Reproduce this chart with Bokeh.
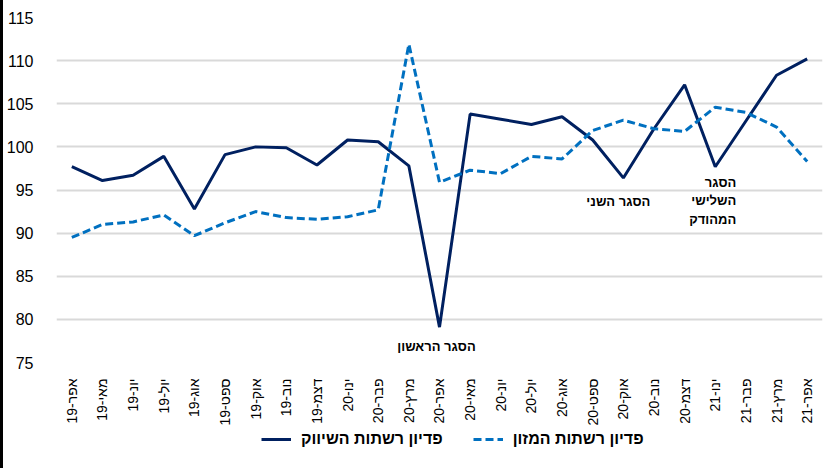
from bokeh.plotting import figure
from bokeh.layouts import column
from bokeh.models import ColumnDataSource, FactorRange, Range1d, Legend, LegendItem, FixedTicker
from bokeh.core.properties import value
from bokeh.embed import file_html
from bokeh.resources import INLINE

months = ["אפר-19", "מאי-19", "יונ-19", "יול-19", "אוג-19", "ספט-19", "אוק-19", "נוב-19",
          "דצמ-19", "ינו-20", "פבר-20", "מרץ-20", "אפר-20", "מאי-20", "יונ-20", "יול-20",
          "אוג-20", "ספט-20", "אוק-20", "נוב-20", "דצמ-20", "ינו-21", "פבר-21", "מרץ-21", "אפר-21"]

marketing = [97.7, 96.1, 96.7, 98.9, 92.8, 99.1, 100.0, 99.9, 97.9, 100.8, 100.6, 97.8, 79.1,
             103.8, 103.2, 102.6, 103.5, 100.8, 96.4, 102.1, 107.2, 97.7, 103.0, 108.3, 110.2]
food = [89.5, 91.0, 91.3, 92.1, 89.7, 91.2, 92.5, 91.8, 91.6, 91.9, 92.7, 111.9, 95.9,
        97.3, 96.9, 98.9, 98.6, 101.9, 103.1, 102.1, 101.8, 104.6, 104.0, 102.3, 98.3]

series_names = ["פדיון רשתות השיווק", "פדיון רשתות המזון"]
y_ticks = [75, 80, 85, 90, 95, 100, 105, 110, 115]

ann_text = ["הסגר הראשון", "הסגר השני", "הסגר", "השלישי", "המהודק"]
ann_x = ["אפר-20", "אוק-20", "ינו-21", "ינו-21", "ינו-21"]
ann_y = [76.9, 93.7, 95.9, 93.8, 91.6]

FONT = "Liberation Sans"
NAVY = "#002060"
BLUE = "#0070C0"

p = figure(x_range=FactorRange(*months), y_range=Range1d(75, 115),
           frame_width=766, frame_height=345,
           min_border_left=53, min_border_top=17, min_border_right=5, min_border_bottom=62,
           output_backend="svg", toolbar_location=None)
p.outline_line_color = None
p.background_fill_color = "white"
p.border_fill_color = "white"

src = ColumnDataSource(dict(x=months, m=marketing, f=food))
p.line("x", "m", source=src, line_color=NAVY, line_width=3)
p.line("x", "f", source=src, line_color=BLUE, line_width=3, line_dash="8 4")

asrc = ColumnDataSource(dict(x=ann_x, y=ann_y, t=ann_text,
                             align=["center", "center", "right", "right", "right"],
                             xo=[-3, -5, 21, 21, 21]))
p.text("x", "y", text="t", source=asrc, text_align="align", x_offset="xo",
       text_baseline="middle", text_font=value(FONT), text_font_style="bold",
       text_font_size="13px", text_color="#000000")

p.xgrid.grid_line_color = None
p.ygrid.grid_line_color = "#d9d9d9"
p.ygrid.grid_line_width = 2

p.yaxis.ticker = FixedTicker(ticks=y_ticks)
for ax in (p.xaxis, p.yaxis):
    ax.axis_line_color = None
    ax.major_tick_line_color = None
    ax.minor_tick_line_color = None
    ax.major_label_text_font = FONT
    ax.major_label_text_color = "#000000"
p.yaxis.major_label_text_font_size = "16px"
p.yaxis.major_label_standoff = 17
p.xaxis.major_label_text_font_size = "14px"
p.xaxis.major_label_orientation = 1.5707963
p.xaxis.major_label_standoff = 10
p.xaxis.group_text_font_size = "0px"

# legend strip below the chart (legend-only renderers sit outside the visible range)
p2 = figure(width=824, height=40, x_range=Range1d(0, 1), y_range=Range1d(0, 1),
            x_axis_type=None, y_axis_type=None, min_border=0,
            output_backend="svg", toolbar_location=None)
p2.outline_line_color = None
p2.grid.grid_line_color = None
p2.background_fill_color = "white"
p2.border_fill_color = "white"
l1 = p2.line(x=[-5, -4], y=[-5, -5], line_color=NAVY, line_width=3)
l2 = p2.line(x=[-5, -4], y=[-5, -5], line_color=BLUE, line_width=3, line_dash="8 4")
legend = Legend(items=[LegendItem(label=series_names[0], renderers=[l1]),
                       LegendItem(label=series_names[1], renderers=[l2])],
                orientation="horizontal", location=(205, 19),
                label_text_font=FONT, label_text_font_size="16px", label_text_font_style="bold",
                label_text_color="#000000", glyph_width=30, glyph_height=20,
                label_standoff=10, spacing=30,
                border_line_color=None, background_fill_alpha=0, margin=0, padding=0)
p2.add_layout(legend, "center")

layout = column(p, p2, spacing=0)
layout.styles = {"border-left": "3px solid black"}

open("out.html", "w").write(file_html(layout, INLINE))
